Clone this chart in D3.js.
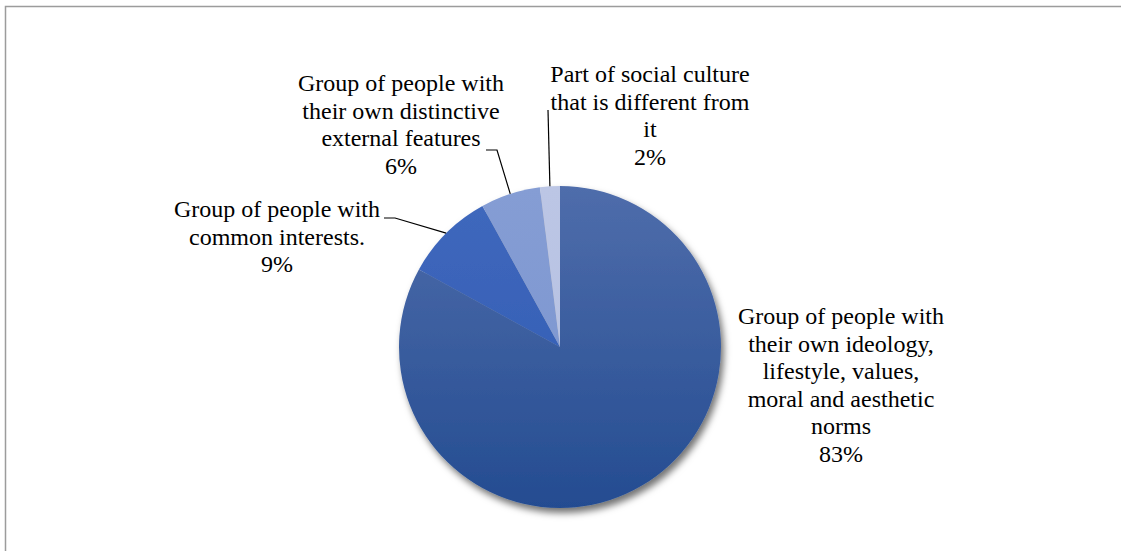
<!DOCTYPE html>
<html>
<head>
<meta charset="utf-8">
<script src="https://cdn.jsdelivr.net/npm/d3@7"></script>
<style>
  html, body { margin: 0; padding: 0; background: #fff; }
  #canvas { width: 1121px; height: 551px; }
</style>
</head>
<body>
<div id="canvas"></div>
<script>
// data
const categories = [
  'Group of people with their own ideology, lifestyle, values, moral and aesthetic norms',
  'Group of people with common interests.',
  'Group of people with their own distinctive external features',
  'Part of social culture that is different from it'
];
const values = [83, 9, 6, 2];
// label text broken as in the picture
const labelLines = [
  ['Group of people with', 'their own ideology,', 'lifestyle, values,', 'moral and aesthetic', 'norms'],
  ['Group of people with', 'common interests.'],
  ['Group of people with', 'their own distinctive', 'external features'],
  ['Part of social culture', 'that is different from', 'it']
];
const colorsTop = ['#4f6dab', '#4068bd', '#859dd4', '#bcc6e5'];
const colorsBottom = ['#244c91', '#2f5bb2', '#7a94cf', '#b3bfe1'];

// layout (label centre x, first baseline y, leader start / elbow)
const labelLayout = [
  {x: 841, y: 324, leader: null},
  {x: 277, y: 217, leader: [[384, 218], [395, 218]]},
  {x: 401, y: 91, leader: [[486, 150], [497, 150]]},
  {x: 650, y: 82, leader: [[548, 110], [548, 110]]}
];

const W = 1121, H = 551;
const cx = 560, cy = 347, R = 161;
const lineH = 27.5;

const svg = d3.select('#canvas').append('svg')
  .attr('width', W).attr('height', H);

const defs = svg.append('defs');
const shadow = defs.append('filter').attr('id', 'shadow')
  .attr('x', '-20%').attr('y', '-20%').attr('width', '140%').attr('height', '140%');
shadow.append('feDropShadow')
  .attr('dx', 3).attr('dy', 5).attr('stdDeviation', 3.5)
  .attr('flood-color', '#000').attr('flood-opacity', 0.55);

values.forEach((v, i) => {
  const g = defs.append('linearGradient').attr('id', 'grad' + i)
    .attr('gradientUnits', 'userSpaceOnUse')
    .attr('x1', 0).attr('y1', -R).attr('x2', 0).attr('y2', R);
  g.append('stop').attr('offset', '0%').attr('stop-color', colorsTop[i]);
  g.append('stop').attr('offset', '100%').attr('stop-color', colorsBottom[i]);
});

// frame
svg.append('rect')
  .attr('x', 5.5).attr('y', 6.5)
  .attr('width', W + 20).attr('height', H + 20)
  .attr('fill', 'none').attr('stroke', '#9c9c9c').attr('stroke-width', 1.5);

const pie = d3.pie().sort(null).value(d => d);
const arcs = pie(values);
const arc = d3.arc().innerRadius(0).outerRadius(R);
const edge = d3.arc().innerRadius(R).outerRadius(R);

const plot = svg.append('g').attr('transform', 'translate(' + cx + ',' + cy + ')');

plot.append('g').attr('filter', 'url(#shadow)')
  .selectAll('path').data(arcs)
  .enter().append('path')
  .attr('d', arc)
  .attr('fill', (d, i) => 'url(#grad' + i + ')');

// leader lines
const leaderData = arcs.map((d, i) => ({d: d, l: labelLayout[i].leader})).filter(o => o.l);
svg.append('g').selectAll('polyline').data(leaderData)
  .enter().append('polyline')
  .attr('points', o => {
    const c = edge.centroid(o.d);
    return [o.l[0], o.l[1], [cx + c[0], cy + c[1]]].map(p => p.join(',')).join(' ');
  })
  .attr('fill', 'none').attr('stroke', '#000').attr('stroke-width', 1.2);

// labels
const labels = svg.append('g').selectAll('text').data(arcs)
  .enter().append('text')
  .attr('text-anchor', 'middle')
  .attr('font-family', "'Liberation Serif'")
  .attr('font-size', 24)
  .attr('fill', '#000')
  .attr('x', (d, i) => labelLayout[i].x)
  .attr('y', (d, i) => labelLayout[i].y);

labels.each(function(d, i) {
  const t = d3.select(this);
  const lines = labelLines[i].concat([Math.round(d.data) + '%']);
  lines.forEach((s, j) => {
    t.append('tspan')
      .attr('x', labelLayout[i].x)
      .attr('y', labelLayout[i].y + j * lineH)
      .text(s);
  });
});
</script>
</body>
</html>
